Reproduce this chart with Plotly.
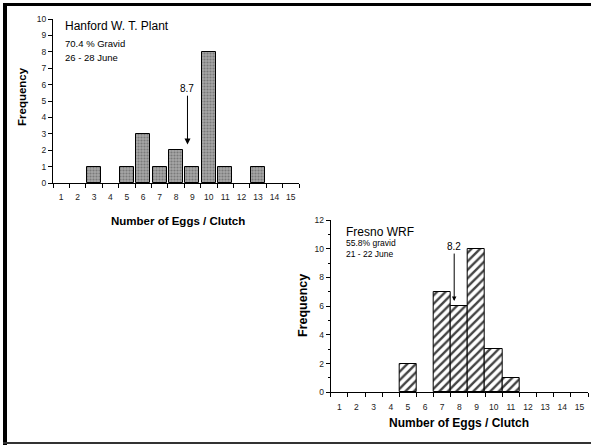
import plotly.graph_objects as go

# ---- data ----
clutch_sizes = list(range(1, 16))
hanford_freq = [0, 0, 1, 0, 1, 3, 1, 2, 1, 8, 1, 0, 1, 0, 0]
fresno_freq = [0, 0, 0, 0, 2, 0, 7, 6, 10, 3, 1, 0, 0, 0, 0]
hanford_mean = 8.7
fresno_mean = 8.2
fresno_arrow_x = 7.7  # arrow drawn position as in picture

W, H = 591, 445
FONT = "Arial, 'Liberation Sans', sans-serif"


def px(x):
    return x / W


def py(y):
    return 1 - y / H


fig = go.Figure()

hx = [c for c, v in zip(clutch_sizes, hanford_freq) if v > 0]
hy = [v for v in hanford_freq if v > 0]
fx = [c for c, v in zip(clutch_sizes, fresno_freq) if v > 0]
fy = [v for v in fresno_freq if v > 0]

fig.add_trace(go.Bar(
    x=hx, y=hy, width=0.85, xaxis="x", yaxis="y",
    marker=dict(color="#a0a0a0",
                line=dict(color="black", width=1),
                pattern=dict(shape=".", fgcolor="#7a7a7a", bgcolor="#a6a6a6",
                             size=3, solidity=0.4)),
    showlegend=False, hoverinfo="x+y"))

fig.add_trace(go.Bar(
    x=fx, y=fy, width=1.0, xaxis="x2", yaxis="y2",
    marker=dict(color="white",
                line=dict(color="black", width=1),
                pattern=dict(shape="/", fgcolor="#444444", bgcolor="white",
                             size=6, solidity=0.4)),
    showlegend=False, hoverinfo="x+y"))

tickfont = dict(family=FONT, size=8.5, color="#222")

xcommon = dict(range=[0.5, 15.5], tickvals=clutch_sizes, ticks="", showline=True,
               linecolor="black", linewidth=1, showgrid=False, zeroline=False,
               tickfont=tickfont, ticklabelstandoff=6, automargin=False,
               minor=dict(tick0=0.5, dtick=1, ticks="outside", ticklen=4,
                          tickcolor="black", showgrid=False))

fig.update_layout(
    template="none",
    width=W, height=H, autosize=False,
    margin=dict(l=0, r=0, t=0, b=0, pad=0, autoexpand=False),
    paper_bgcolor="white", plot_bgcolor="white",
    bargap=0,
    font=dict(family=FONT, color="black"),
    xaxis=dict(domain=[px(53), px(299)], anchor="y", **xcommon),
    yaxis=dict(domain=[py(183), py(19)], anchor="x", range=[0, 10], dtick=1,
               ticks="outside", ticklen=4, tickcolor="black", showline=True,
               linecolor="black", linewidth=1, showgrid=False, zeroline=False,
               tickfont=tickfont, automargin=False),
    xaxis2=dict(domain=[px(330.7), px(588)], anchor="y2", **xcommon),
    yaxis2=dict(domain=[py(392.3), py(220)], anchor="x2", range=[0, 12], dtick=2,
                ticks="outside", ticklen=4, tickcolor="black", showline=True,
                linecolor="black", linewidth=1, showgrid=False, zeroline=False,
                tickfont=tickfont, automargin=False,
                minor=dict(dtick=1, ticks="outside", ticklen=2, tickcolor="black",
                           showgrid=False)),
)

ann = []
# mean arrows
ann.append(dict(x=hanford_mean, y=2.35, ax=hanford_mean, ay=5.75, xref="x", yref="y",
                axref="x", ayref="y", text=f"{hanford_mean}", showarrow=True,
                arrowhead=2, arrowsize=1.2, arrowwidth=1, arrowcolor="black",
                font=dict(size=10, family=FONT)))
ann.append(dict(x=fresno_arrow_x, y=6.35, ax=fresno_arrow_x, ay=10.15, xref="x2", yref="y2",
                axref="x2", ayref="y2", text=f"{fresno_mean}", showarrow=True,
                arrowhead=2, arrowsize=0.9, arrowwidth=1, arrowcolor="black",
                font=dict(size=10, family=FONT)))

# panel texts
def txt(x, y, s, size, bold=False, angle=0, xanchor="left"):
    ann.append(dict(x=px(x), y=py(y), xref="paper", yref="paper",
                    text=f"<b>{s}</b>" if bold else s, showarrow=False,
                    xanchor=xanchor, yanchor="middle", textangle=angle,
                    font=dict(size=size, family=FONT, color="black")))

txt(63, 26, "Hanford W. T. Plant", 12)
txt(63, 43, "70.4 % Gravid", 9.5)
txt(63, 57, "26 - 28 June", 9.5)
txt(344, 232, "Fresno WRF", 12)
txt(344, 243, "55.8% gravid", 8.5)
txt(344, 254, "21 - 22 June", 8.5)

txt(22, 97, "Frequency", 11.5, bold=True, angle=-90, xanchor="center")
txt(178, 221, "Number of Eggs / Clutch", 11.5, bold=True, xanchor="center")
txt(303, 306, "Frequency", 12.5, bold=True, angle=-90, xanchor="center")
txt(459, 423, "Number of Eggs / Clutch", 12, bold=True, xanchor="center")

fig.update_layout(annotations=ann)

# outer frame
shapes = [
    dict(type="line", xref="paper", yref="paper", x0=px(5), x1=px(5), y0=py(3), y1=py(445),
         line=dict(color="black", width=4)),
    dict(type="line", xref="paper", yref="paper", x0=px(3), x1=px(591), y0=py(4.5), y1=py(4.5),
         line=dict(color="black", width=3)),
    dict(type="line", xref="paper", yref="paper", x0=px(3), x1=px(591), y0=py(443), y1=py(443),
         line=dict(color="#333333", width=2)),
]
fig.update_layout(shapes=shapes)

fig.write_html(
    "out.html",
    config={"displayModeBar": False},
    post_script="document.body.style.margin='0';document.body.style.padding='0';"
                "document.body.style.overflow='hidden';",
)
